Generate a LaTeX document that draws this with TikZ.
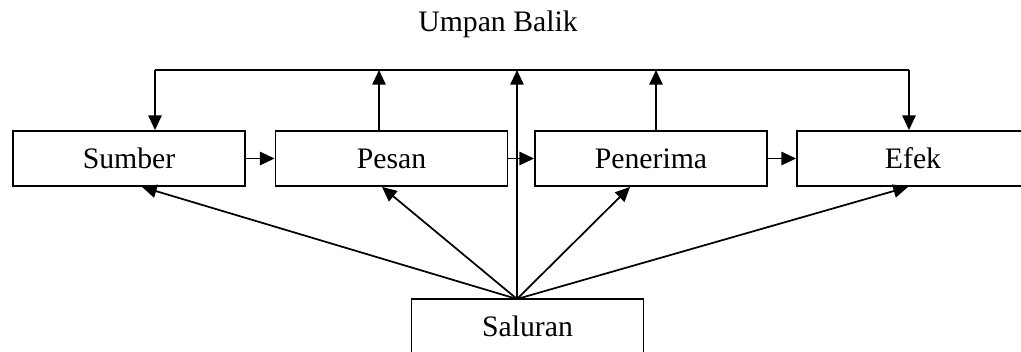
\documentclass[tikz,border=0pt]{standalone}
\usepackage{fontspec}
\setmainfont{Liberation Serif}
\usetikzlibrary{arrows.meta,calc}
\begin{document}
\begin{tikzpicture}[x=0.75pt,y=-0.75pt,
  box/.style={draw,line width=1.4pt,minimum width=174pt,minimum height=41.25pt,inner sep=0pt,font=\fontsize{22.3}{26}\selectfont},
  arr/.style={line width=1.3pt,-{Triangle[length=11pt,width=10pt]}},
  ln/.style={line width=1.3pt}]
\useasboundingbox (0,0) rectangle (1021,351);
\clip (0,0) rectangle (1021,351);
\node[font=\fontsize{22.3}{26}\selectfont] (title) at (498,24) {Umpan Balik};
\node[box] (Sumber) at (129,158.5) {Sumber};
\node[box] (Pesan) at (391.5,158.5) {Pesan};
\node[box] (Penerima) at (651,158.5) {Penerima};
\node[box] (Efek) at (913,158.5) {Efek};
\node[box] (Saluran) at (527.5,326.5) {Saluran};
\coordinate (fbL) at (155,70);
\coordinate (fbR) at (909,70);
\coordinate (pu) at (379,70);
\coordinate (ru) at (656,70);
\coordinate (cu) at (517,70);
\coordinate (apex) at (517,299);
\draw[ln] (fbL) -- (fbR);
\draw[arr] (fbL) -- (fbL |- Sumber.north);
\draw[arr] (fbR) -- (fbR |- Efek.north);
\draw[arr] (pu |- Pesan.north) -- (pu);
\draw[arr] (ru |- Penerima.north) -- (ru);
\draw[arr] (apex) -- (cu);
\draw[arr] (Sumber.east) -- (Pesan.west);
\draw[arr] (Pesan.east) -- (Penerima.west);
\draw[arr] (Penerima.east) -- (Efek.west);
\draw[arr] (apex) -- ($(Sumber.south)+(13,0)$);
\draw[arr] (apex) -- ($(Pesan.south)+(-9.5,0)$);
\draw[arr] (apex) -- ($(Penerima.south)+(-21,0)$);
\draw[arr] (apex) -- ($(Efek.south)+(-5,0)$);
\end{tikzpicture}
\end{document}
